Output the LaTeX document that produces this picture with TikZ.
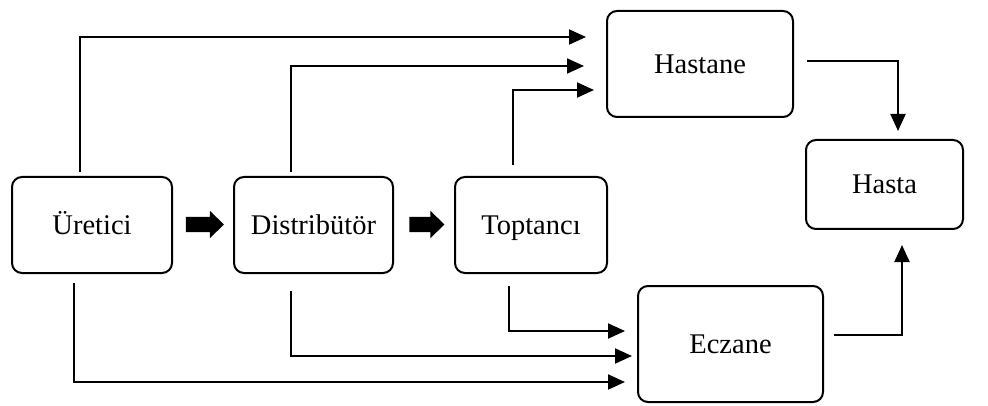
\documentclass[tikz,border=0pt]{standalone}
\usepackage{fontspec}
\setmainfont{Liberation Serif}
\usetikzlibrary{arrows.meta,shapes.arrows}
\begin{document}
\begin{tikzpicture}
            [x=1pt, y=-1pt,
            box/.style={draw, line width=2pt, rounded corners=10pt, inner sep=0pt, text height=19pt, text depth=0pt, font=\fontsize{28.5}{32}\selectfont},
            link/.style={line width=2pt, -{Triangle[length=17pt, width=15pt]}},
            bigarrow/.style={single arrow, fill=black, draw=none, inner sep=7.5pt, minimum width=27pt, single arrow head extend=6pt, single arrow tip angle=88}]

            \useasboundingbox (0,0) rectangle (988,406);

            \node[box, minimum width=160pt, minimum height=96pt] (ure) at (92,225) {Üretici};
            \node[box, minimum width=159pt, minimum height=96pt] (dis) at (313.5,225) {Distribütör};
            \node[box, minimum width=152pt, minimum height=96pt] (top) at (531,225) {Toptancı};
            \node[box, minimum width=186pt, minimum height=106pt] (hos) at (700,64) {Hastane};
            \node[box, minimum width=157pt, minimum height=89pt] (hasta) at (884.5,184.5) {Hasta};
            \node[box, minimum width=185pt, minimum height=116pt] (ecz) at (730.5,344) {Eczane};

            \node[bigarrow, minimum height=38pt] (b1) at (201,224.5) {};
            \node[bigarrow, minimum height=35pt] (b2) at (423,224.5) {};

            % to Hastane
            \draw[link] ([xshift=-12pt, yshift=4pt]ure.north) |- ([xshift=-20pt, yshift=27pt]hos.west);
            \draw[link] ([xshift=-22.5pt, yshift=4pt]dis.north) |- ([xshift=-22pt, yshift=-2pt]hos.west);
            \draw[link] ([xshift=-18pt, yshift=11pt]top.north) |- ([xshift=-12pt, yshift=-26pt]hos.west);
            % to Eczane
            \draw[link] ([xshift=-18pt, yshift=-9pt]ure.south) |- ([xshift=-12pt, yshift=-38pt]ecz.west);
            \draw[link] ([xshift=-22.5pt, yshift=-17pt]dis.south) |- ([xshift=-5pt, yshift=-12pt]ecz.west);
            \draw[link] ([xshift=-22pt, yshift=-12pt]top.south) |- ([xshift=-12pt, yshift=13pt]ecz.west);
            % to Hasta
            \draw[link] ([xshift=13pt, yshift=3pt]hos.east) -| ([xshift=13.5pt, yshift=8pt]hasta.north);
            \draw[link] ([xshift=10pt, yshift=9pt]ecz.east) -| ([xshift=17.5pt, yshift=-15pt]hasta.south);

        \end{tikzpicture}
\end{document}
